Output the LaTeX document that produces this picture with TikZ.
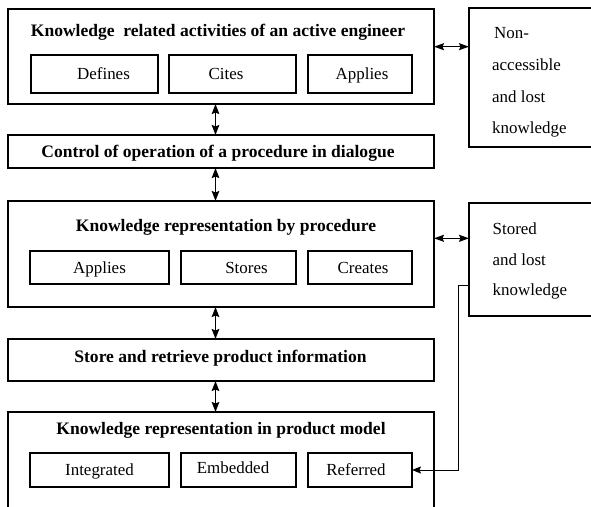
\documentclass[tikz,border=0pt]{standalone}
\usepackage{fontspec}
\setmainfont{Liberation Serif}
\usetikzlibrary{arrows.meta,calc}

\tikzset{
  frame/.style={draw, line width=1.5bp, inner sep=0pt, outer sep=0pt},
  cell/.style={frame, font=\fontsize{17}{20}\selectfont, text height=13bp, text depth=2bp},
  % moves the label of a cell sideways by half the given amount
  nudge/.style={execute at begin node={\hspace*{#1}}},
  heading/.style={font=\bfseries\fontsize{17.6}{20}\selectfont, inner sep=0pt, text height=13bp, text depth=2bp},
  note/.style={font=\fontsize{17}{20}\selectfont, inner sep=0pt, anchor=west, text height=13bp, text depth=2bp},
  link/.style={line width=1.8bp, {Stealth[length=10bp,width=7.5bp,inset=1.5bp]}-{Stealth[length=10bp,width=7.5bp,inset=1.5bp]}},
  sidelink/.style={line width=1.4bp, {Stealth[length=10bp,width=7bp,inset=1.5bp]}-{Stealth[length=10bp,width=7bp,inset=1.5bp]}},
  feed/.style={line width=1bp, -{Stealth[length=9bp,width=7bp,inset=1.5bp]}}
}

\begin{document}
\begin{tikzpicture}[x=1bp,y=-1bp]
\useasboundingbox (0,0) rectangle (591,507);
\clip (0,0) rectangle (591,507);

% main column of layers
\node[frame, minimum width=426bp, minimum height=95bp]  (act)   at (221,56.5) {};
\node[frame, minimum width=426bp, minimum height=33bp]  (ctrl)  at (221,151.5) {};
\node[frame, minimum width=426bp, minimum height=106bp] (proc)  at (221,254) {};
\node[frame, minimum width=426bp, minimum height=42bp]  (store) at (221,360) {};
\node[frame, minimum width=426bp, minimum height=110bp] (model) at (221,467) {};

% headings
\node[heading] (actT)   at (218,30.7)  {Knowledge\ \ related activities of an active engineer};
\node[heading] (ctrlT)  at (218,151.7) {Control of operation of a procedure in dialogue};
\node[heading] (procT)  at (226,226)   {Knowledge representation by procedure};
\node[heading] (storeT) at (220.5,357) {Store and retrieve product information};
\node[heading] (modelT) at (221,429)   {Knowledge representation in product model};

% activities of the engineer
\node[cell, nudge=18bp, minimum width=127bp, minimum height=38bp] (defines) at (94.5,74) {Defines};
\node[cell, nudge=-13bp, minimum width=127bp, minimum height=38bp] (cites)   at (232.5,74) {Cites};
\node[cell, nudge=4bp, minimum width=104bp, minimum height=38bp] (appliesA) at (360,74) {Applies};

% procedure
\node[cell, minimum width=139bp, minimum height=33bp] (appliesB) at (99.5,267.5) {Applies};
\node[cell, nudge=16bp, minimum width=115bp, minimum height=33bp] (stores)   at (238.5,267.5) {Stores};
\node[cell, nudge=6bp, minimum width=104bp, minimum height=33bp] (creates)  at (360,267.5) {Creates};

% product model
\node[cell, minimum width=139bp, minimum height=34bp] (integrated) at (99.5,470) {Integrated};
\node[cell, nudge=-11bp, minimum width=115bp, minimum height=34bp] (embedded)   at (238.5,470) {\raisebox{2bp}{Embedded}};
\node[cell, nudge=-8bp, minimum width=104bp, minimum height=34bp] (referred)   at (360,470) {Referred};

% side boxes
\node[frame, minimum width=131bp, minimum height=139bp] (lost)   at (534.5,77.5) {};
\node[frame, minimum width=131bp, minimum height=113bp] (stored) at (534.5,259.5) {};

\node[note] (l1) at (494,33.3)  {Non-};
\node[note] (l2) at (492,65)    {accessible};
\node[note] (l3) at (492,96.7)  {and lost};
\node[note] (l4) at (492,128.3) {knowledge};

\node[note] (s1) at (492.5,229.3) {Stored};
\node[note] (s2) at (492.5,260)   {and lost};
\node[note] (s3) at (492.5,290)   {knowledge};

% connectors
\coordinate (spine) at (215.5,0);
\draw[link] (act.south -| spine)   -- (ctrl.north -| spine);
\draw[link] (ctrl.south -| spine)  -- (proc.north -| spine);
\draw[link] (proc.south -| spine)  -- (store.north -| spine);
\draw[link] (store.south -| spine) -- (model.north -| spine);

\coordinate (row1) at (0,46.7);
\coordinate (row2) at (0,238.3);
\draw[sidelink] (act.east |- row1)  -- (lost.west |- row1);
\draw[sidelink] (proc.east |- row2) -- (stored.west |- row2);

\coordinate (tap) at ($(stored.west)+(0,26.2)$);
\draw[feed] (tap) -- ++(-10.5,0) |- (referred.east);
\end{tikzpicture}
\end{document}
